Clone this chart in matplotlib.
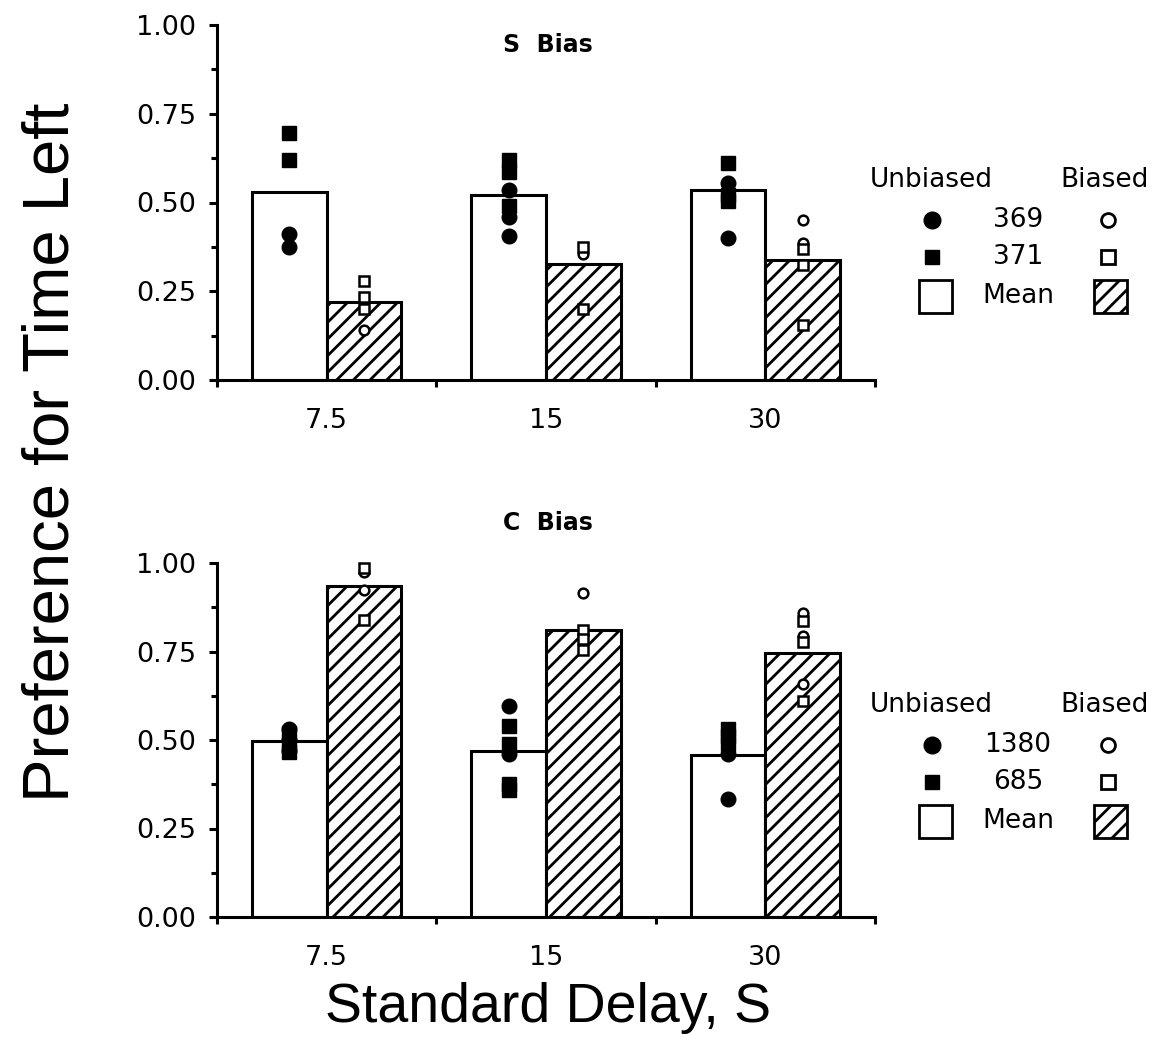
import matplotlib
matplotlib.use("Agg")
import matplotlib.pyplot as plt
from matplotlib.lines import Line2D
from matplotlib.patches import Rectangle
import numpy as np

plt.rcParams['font.family'] = ['DejaVu Sans']
plt.rcParams['hatch.linewidth'] = 2.0

delays = ['7.5', '15', '30']

# S Bias panel
s_unb_mean = [0.53, 0.52, 0.535]
s_bia_mean = [0.22, 0.327, 0.338]
s_unb_circ = [[0.41, 0.375], [0.535, 0.46, 0.405], [0.555, 0.40]]          # 369
s_unb_sq = [[0.695, 0.62], [0.62, 0.585, 0.49], [0.61, 0.52, 0.505]]      # 371
s_bia_circ = [[0.14], [0.355], [0.45, 0.385]]
s_bia_sq = [[0.28, 0.235, 0.20], [0.375, 0.20], [0.37, 0.325, 0.155]]
s_subjects = ['369', '371']

# C Bias panel
c_unb_mean = [0.497, 0.47, 0.458]
c_bia_mean = [0.934, 0.812, 0.747]
c_unb_circ = [[0.53, 0.50, 0.47], [0.595, 0.46], [0.46, 0.333]]          # 1380
c_unb_sq = [[0.52, 0.49, 0.465], [0.54, 0.49, 0.375, 0.36], [0.53, 0.51, 0.49]]  # 685
c_bia_circ = [[0.975, 0.925], [0.915], [0.86, 0.795, 0.658]]
c_bia_sq = [[0.985, 0.84], [0.81, 0.785, 0.755], [0.837, 0.776, 0.61]]
c_subjects = ['1380', '685']

yticks = [0.0, 0.25, 0.5, 0.75, 1.0]
ytick_labels = ['0.00', '0.25', '0.50', '0.75', '1.00']

W, H = 1153, 1041
fig = plt.figure(figsize=(W / 100, H / 100), dpi=100)

LW = 2.2
TICKFS = 19.5
off, bw = 0.17, 0.34


def panel(ax, unb_mean, bia_mean, unb_circ, unb_sq, bia_circ, bia_sq):
    x = np.arange(len(delays))
    ax.bar(x - off, unb_mean, width=bw, facecolor='white', edgecolor='black', linewidth=LW, zorder=2)
    ax.bar(x + off, bia_mean, width=bw, facecolor='white', edgecolor='black', linewidth=LW,
           hatch='//', zorder=2)
    for i in range(len(delays)):
        ax.plot([x[i] - off] * len(unb_circ[i]), unb_circ[i], 'o', color='black', ms=10.5, zorder=4, clip_on=False)
        ax.plot([x[i] - off] * len(unb_sq[i]), unb_sq[i], 's', color='black', ms=9.5, zorder=4, clip_on=False)
        ax.plot([x[i] + off] * len(bia_circ[i]), bia_circ[i], 'o', mfc='white', mec='black', mew=1.8,
                ms=7, zorder=4, clip_on=False)
        ax.plot([x[i] + off] * len(bia_sq[i]), bia_sq[i], 's', mfc='white', mec='black', mew=1.8,
                ms=7, zorder=4, clip_on=False)
    ax.set_xlim(-0.5, 2.5)
    ax.set_ylim(0, 1)
    ax.spines['top'].set_visible(False)
    ax.spines['right'].set_visible(False)
    ax.spines['left'].set_linewidth(LW)
    ax.spines['bottom'].set_linewidth(LW)
    ax.set_yticks(yticks)
    ax.set_yticklabels(ytick_labels)
    ax.set_yticks(np.arange(0.125, 1.0, 0.25), minor=True)
    ax.tick_params(axis='y', which='major', direction='out', length=6, width=LW, labelsize=TICKFS, pad=9)
    ax.tick_params(axis='y', which='minor', direction='out', length=4.5, width=LW)
    ax.set_xticks(x)
    ax.set_xticklabels(delays)
    ax.set_xticks([-0.5, 0.5, 1.5, 2.5], minor=True)
    ax.tick_params(axis='x', which='major', length=0, labelsize=TICKFS, pad=20)
    ax.tick_params(axis='x', which='minor', direction='out', length=5, width=LW)


left = 217 / W
width = (875 - 217) / W
ax1 = fig.add_axes([left, 1 - 380 / H, width, 355 / H])
ax2 = fig.add_axes([left, 1 - 917 / H, width, 354 / H])

panel(ax1, s_unb_mean, s_bia_mean, s_unb_circ, s_unb_sq, s_bia_circ, s_bia_sq)
panel(ax2, c_unb_mean, c_bia_mean, c_unb_circ, c_unb_sq, c_bia_circ, c_bia_sq)

fig.text(548 / W, 1 - 45 / H, 'S  Bias', ha='center', va='center', fontsize=17, fontweight='bold')
fig.text(548 / W, 1 - 523 / H, 'C  Bias', ha='center', va='center', fontsize=17, fontweight='bold')

fig.text(52 / W, 1 - 452 / H, 'Preference for Time Left', rotation=90, ha='center', va='center',
         fontsize=47, family=['Liberation Sans', 'DejaVu Sans'])
fig.text(548 / W, 1 - 1008 / H, 'Standard Delay, S', ha='center', va='center', fontsize=40,
         family=['Liberation Sans', 'DejaVu Sans'])


def legend(y0, subjects):
    # y0: pixel y of "Unbiased" header row
    fs = 19
    fig.text(870 / W, 1 - y0 / H, 'Unbiased', ha='left', va='center', fontsize=fs)
    fig.text(1149 / W, 1 - y0 / H, 'Biased', ha='right', va='center', fontsize=fs)
    rows = [y0 + 40, y0 + 77, y0 + 116]
    fig.text(1018 / W, 1 - rows[0] / H, subjects[0], ha='center', va='center', fontsize=fs)
    fig.text(1018 / W, 1 - rows[1] / H, subjects[1], ha='center', va='center', fontsize=fs)
    fig.text(1018 / W, 1 - rows[2] / H, 'Mean', ha='center', va='center', fontsize=fs)
    fig.add_artist(Line2D([932 / W], [1 - rows[0] / H], marker='o', color='black', ms=12,
                          transform=fig.transFigure))
    fig.add_artist(Line2D([932 / W], [1 - rows[1] / H], marker='s', color='black', ms=10,
                          transform=fig.transFigure))
    fig.add_artist(Line2D([1108 / W], [1 - rows[0] / H], marker='o', mfc='white', mec='black', mew=2,
                          ms=10, transform=fig.transFigure))
    fig.add_artist(Line2D([1108 / W], [1 - rows[1] / H], marker='s', mfc='white', mec='black', mew=2,
                          ms=9.5, transform=fig.transFigure))
    bs = 33
    fig.add_artist(Rectangle(((935 - bs / 2) / W, 1 - (rows[2] + bs / 2) / H), bs / W, bs / H,
                             facecolor='white', edgecolor='black', linewidth=2,
                             transform=fig.transFigure))
    fig.add_artist(Rectangle(((1110 - bs / 2) / W, 1 - (rows[2] + bs / 2) / H), bs / W, bs / H,
                             facecolor='white', edgecolor='black', linewidth=2, hatch='//',
                             transform=fig.transFigure))


legend(180, s_subjects)
legend(705, c_subjects)

fig.savefig('out.png', dpi=100, facecolor='white')
